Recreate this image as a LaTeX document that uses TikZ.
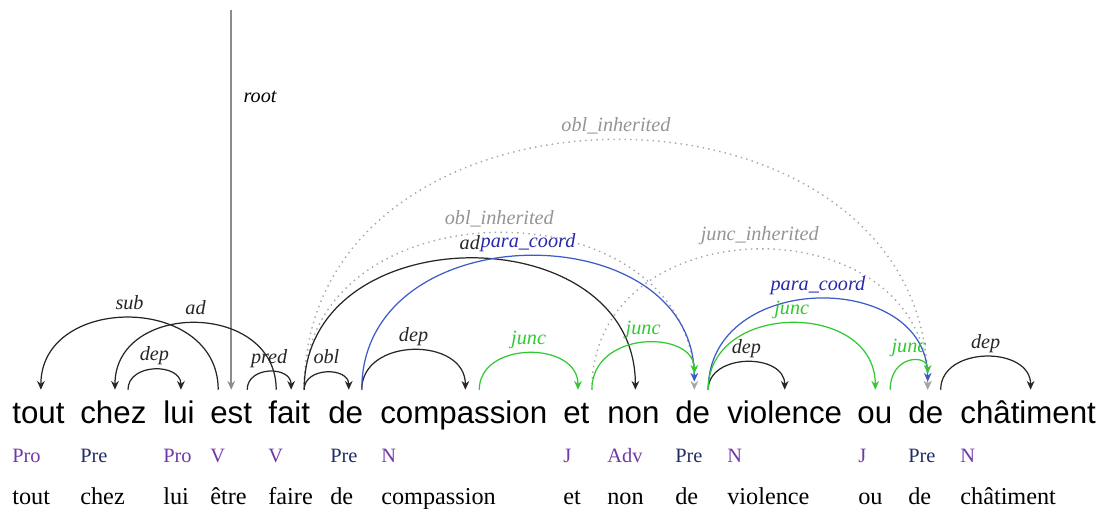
\documentclass[tikz,border=0pt]{standalone}
\usepackage{fontspec}
\setmainfont{Liberation Serif}
\setsansfont{Liberation Sans}
\usetikzlibrary{arrows.meta}

\definecolor{catviolet}{RGB}{112,56,168}
\definecolor{catnavy}{RGB}{34,44,100}
\definecolor{juncgreen}{RGB}{50,200,50}
\definecolor{coordblue}{RGB}{60,90,200}
\definecolor{coordtext}{RGB}{40,40,170}
\definecolor{inhgray}{RGB}{165,165,165}

\tikzset{
	word/.style={anchor=base west, font=\sffamily\fontsize{17.8}{20}\selectfont,
			text height=14pt, text depth=4pt, inner xsep=0pt, inner ysep=5.3pt},
	cat/.style={anchor=base west, font=\fontsize{11.6}{13}\selectfont, inner sep=0pt},
	lemma/.style={anchor=base west, font=\fontsize{13.8}{15}\selectfont, inner sep=0pt},
	rel/.style={midway, above=1pt, font=\fontsize{11.5}{13}\selectfont\itshape,
			text height=8pt, text depth=2.5pt, inner sep=1pt},
	deparc/.style={->, line width=0.7pt, black!85},
	juncarc/.style={->, line width=0.7pt, juncgreen},
	coordarc/.style={->, line width=0.7pt, coordblue},
	inharc/.style={->, line width=0.8pt, inhgray, dash pattern=on 0.8pt off 2.4pt},
}

\begin{document}
\begin{tikzpicture}[x=0.02cm, y=-0.02cm, >={Stealth[length=5pt,width=4.4pt]}]
		\useasboundingbox (0,0) rectangle (1102,509);

		% words, categories, lemmas
		\node[word] (tout) at (12,424) {tout};
		\node[word] (chez) at (80,424) {chez};
		\node[word] (lui) at (163,424) {lui};
		\node[word] (est) at (210,424) {est};
		\node[word] (fait) at (268,424) {fait};
		\node[word] (de1) at (328,424) {de};
		\node[word] (compassion) at (380,424) {compassion};
		\node[word] (et) at (563,424) {et};
		\node[word] (non) at (607,424) {non};
		\node[word] (de2) at (675,424) {de};
		\node[word] (violence) at (727,424) {violence};
		\node[word] (ou) at (857,424) {ou};
		\node[word] (de3) at (908,424) {de};
		\node[word] (chatiment) at (960,424) {châtiment};

		\node[cat, text=catviolet] (c-tout) at (12,463) {Pro};
		\node[cat, text=catnavy] (c-chez) at (80,463) {Pre};
		\node[cat, text=catviolet] (c-lui) at (163,463) {Pro};
		\node[cat, text=catviolet] (c-est) at (210,463) {V};
		\node[cat, text=catviolet] (c-fait) at (268,463) {V};
		\node[cat, text=catnavy] (c-de1) at (330,463) {Pre};
		\node[cat, text=catviolet] (c-compassion) at (381,463) {N};
		\node[cat, text=catviolet] (c-et) at (563,463) {J};
		\node[cat, text=catviolet] (c-non) at (607,463) {Adv};
		\node[cat, text=catnavy] (c-de2) at (675,463) {Pre};
		\node[cat, text=catviolet] (c-violence) at (727,463) {N};
		\node[cat, text=catviolet] (c-ou) at (858,463) {J};
		\node[cat, text=catnavy] (c-de3) at (908,463) {Pre};
		\node[cat, text=catviolet] (c-chatiment) at (960,463) {N};

		\node[lemma] (l-tout) at (12,505) {tout};
		\node[lemma] (l-chez) at (80,505) {chez};
		\node[lemma] (l-lui) at (163,505) {lui};
		\node[lemma] (l-est) at (210,505) {être};
		\node[lemma] (l-fait) at (268,505) {faire};
		\node[lemma] (l-de1) at (330,505) {de};
		\node[lemma] (l-compassion) at (381,505) {compassion};
		\node[lemma] (l-et) at (563,505) {et};
		\node[lemma] (l-non) at (607,505) {non};
		\node[lemma] (l-de2) at (675,505) {de};
		\node[lemma] (l-violence) at (727,505) {violence};
		\node[lemma] (l-ou) at (858,505) {ou};
		\node[lemma] (l-de3) at (908,505) {de};
		\node[lemma] (l-chatiment) at (960,505) {châtiment};

		% root
		\coordinate (top) at (0,10);
		\draw[->, line width=1.4pt, black!45] (est.north |- top) -- (est.north)
		node[pos=0.23, right=3pt, font=\fontsize{11.5}{13}\selectfont\itshape, text=black] {root};

		% inherited relations
		\draw[inharc] ([xshift=8.5pt]fait.north) .. controls +(0,-333) and +(0,-333) .. ([xshift=1.1pt]de3.north)
		node[rel, text=inhgray!90!black] {obl\_inherited};
		\draw[inharc] ([xshift=8.5pt]fait.north) .. controls +(0,-209) and +(0,-209) .. ([xshift=0.9pt]de2.north)
		node[rel, text=inhgray!90!black] {obl\_inherited};
		\draw[inharc] ([xshift=8.8pt]et.north) .. controls +(0,-187) and +(0,-187) .. ([xshift=1.1pt]de3.north)
		node[rel, text=inhgray!90!black] {junc\_inherited};

		% dependencies
		\draw[deparc] ([xshift=-7.4pt]est.north) .. controls +(0,-96) and +(0,-96) .. ([xshift=1.4pt]tout.north)
		node[rel] {sub};
		\draw[deparc] ([xshift=-7.4pt]fait.north) .. controls +(0,-89) and +(0,-89) .. ([xshift=0.9pt]chez.north)
		node[rel] {ad};
		\draw[deparc] ([xshift=8.3pt]chez.north) .. controls +(0,-27) and +(0,-27) .. ([xshift=1.1pt]lui.north)
		node[rel] {dep};
		\draw[deparc] ([xshift=9.1pt]est.north) .. controls +(0,-24) and +(0,-24) .. ([xshift=1.1pt]fait.north)
		node[rel] {pred};
		\draw[deparc] ([xshift=8.5pt]fait.north) .. controls +(0,-23) and +(0,-23) .. ([xshift=1.7pt]de1.north)
		node[rel] {obl};
		\draw[deparc] ([xshift=8.5pt]fait.north) .. controls +(0,-175) and +(0,-175) .. ([xshift=1.1pt]non.north)
		node[rel] {ad};
		\draw[deparc] ([xshift=9.1pt]de1.north) .. controls +(0,-53) and +(0,-53) .. ([xshift=0.9pt]compassion.north)
		node[rel] {dep};
		\draw[deparc] ([xshift=8.8pt]de2.north) .. controls +(0,-37) and +(0,-37) .. (violence.north)
		node[rel] {dep};
		\draw[deparc] ([xshift=8.5pt]de3.north) .. controls +(0,-44) and +(0,-44) .. ([xshift=1.4pt]chatiment.north)
		node[rel] {dep};

		% coordination
		\draw[coordarc] ([xshift=9.1pt]de1.north) .. controls +(0,-177) and +(0,-169) .. ([xshift=0.9pt, yshift=4.6pt]de2.north)
		node[rel, text=coordtext] {para\_coord};
		\draw[coordarc] ([xshift=8.8pt]de2.north) .. controls +(0,-120) and +(0,-112) .. ([xshift=1.1pt, yshift=4.6pt]de3.north)
		node[rel, text=coordtext] {para\_coord};
		\draw[juncarc] ([xshift=8.8pt]compassion.north) .. controls +(0,-49) and +(0,-49) .. ([xshift=0.9pt]et.north)
		node[rel, text=juncgreen] {junc};
		\draw[juncarc] ([xshift=8.8pt]et.north) .. controls +(0,-60) and +(0,-44) .. ([xshift=0.9pt, yshift=9.1pt]de2.north)
		node[rel, text=juncgreen] {junc};
		\draw[juncarc] ([xshift=8.8pt]de2.north) .. controls +(0,-89) and +(0,-89) .. ([xshift=0.3pt]ou.north)
		node[rel, text=juncgreen] {junc};
		\draw[juncarc] ([xshift=8.8pt]ou.north) .. controls +(0,-35) and +(0,-20) .. ([xshift=1.1pt, yshift=9.1pt]de3.north)
		node[rel, text=juncgreen] {junc};
	\end{tikzpicture}
\end{document}
